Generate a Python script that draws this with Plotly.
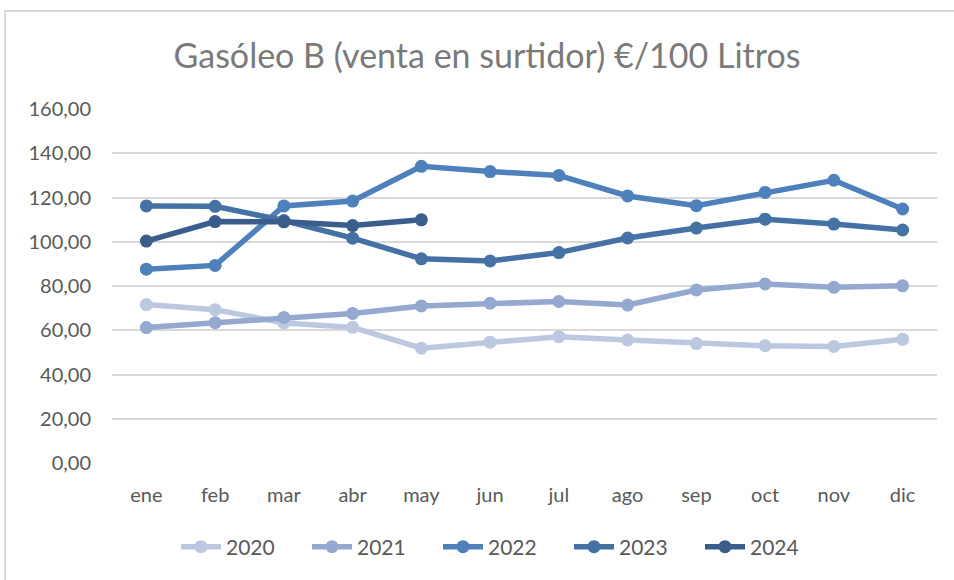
import plotly.graph_objects as go

months = ["ene", "feb", "mar", "abr", "may", "jun", "jul", "ago", "sep", "oct", "nov", "dic"]
y2020 = [71.6, 69.3, 63.3, 61.3, 51.9, 54.6, 57.1, 55.6, 54.0, 53.0, 52.7, 55.9]
y2021 = [61.2, 63.4, 65.8, 67.6, 71.0, 72.2, 73.0, 71.4, 78.2, 80.9, 79.4, 80.1]
y2022 = [87.6, 89.3, 116.2, 118.4, 134.1, 131.7, 130.0, 120.7, 116.3, 122.3, 127.8, 114.8]
y2023 = [116.2, 116.0, 109.6, 101.6, 92.3, 91.3, 95.1, 101.7, 106.2, 110.2, 108.0, 105.3]
y2024 = [100.3, 109.1, 109.0, 107.3, 109.9]

series = [
    ("2020", y2020, "#BCC8E0"),
    ("2021", y2021, "#94A8D0"),
    ("2022", y2022, "#4E80BC"),
    ("2023", y2023, "#4571A5"),
    ("2024", y2024, "#3A5D8B"),
]

FONT = "Lato, 'Open Sans', sans-serif"

fig = go.Figure()
for name, vals, col in series:
    fig.add_trace(go.Scatter(
        x=months[:len(vals)], y=vals, name=name, mode="lines+markers",
        line=dict(color=col, width=5.5),
        marker=dict(color=col, size=13),
    ))

L, R, T, B = 112, 17, 109, 117
W, H = 954, 580
pw, ph = W - L - R, H - T - B

fig.update_layout(
    width=W, height=H,
    margin=dict(l=L, r=R, t=T, b=B, autoexpand=False),
    paper_bgcolor="white", plot_bgcolor="white",
    font=dict(family=FONT, color="#595959", size=20),
    title=dict(text="Gasóleo B (venta en surtidor) €/100 Litros",
               x=487 / W, xanchor="center", xref="container", y=1 - 56 / H, yanchor="middle",
               font=dict(size=34, color="#7A7A7A", family=FONT)),
    showlegend=True,
    legend=dict(orientation="h", x=(176 - L) / pw, xanchor="left", xref="paper",
                y=-(547 - (H - B)) / ph, yanchor="middle",
                font=dict(size=21, color="#595959"), itemwidth=40,
                entrywidth=76, entrywidthmode="pixels",
                tracegroupgap=0, traceorder="normal"),
    xaxis=dict(type="category", showgrid=False, showline=False, zeroline=False,
               ticks="", ticklabelstandoff=18, tickfont=dict(size=20),
               range=[-0.5, 11.5]),
    yaxis=dict(range=[0, 160], dtick=20, tickformat=".2f", showgrid=True,
               gridcolor="#D9D9D9", gridwidth=1.5, zeroline=False, showline=False,
               ticks="", ticklabelstandoff=20, tickfont=dict(size=20)),
    separators=",.",
    shapes=[dict(type="rect", xref="paper", yref="paper",
                 x0=(5 - L) / pw, x1=(W + 10 - L) / pw,
                 y0=-(H + 10 - (H - B)) / ph, y1=(H - B - 11) / ph,
                 line=dict(color="#D9D9D9", width=2), fillcolor="rgba(0,0,0,0)",
                 layer="below")],
)

fig.write_html("out.html", config={"displayModeBar": False},
               post_script="document.body.style.margin='0';")
